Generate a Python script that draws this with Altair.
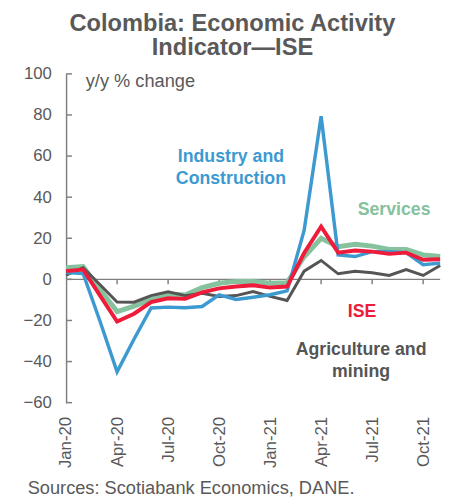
import altair as alt
import pandas as pd

months = ["Jan-20", "Feb-20", "Mar-20", "Apr-20", "May-20", "Jun-20", "Jul-20", "Aug-20",
          "Sep-20", "Oct-20", "Nov-20", "Dec-20", "Jan-21", "Feb-21", "Mar-21", "Apr-21",
          "May-21", "Jun-21", "Jul-21", "Aug-21", "Sep-21", "Oct-21", "Nov-21"]
industry = [3.3, 2.9, -20.5, -45.0, -29.0, -13.9, -13.5, -13.8, -13.2, -7.5, -9.8, -8.7,
            -7.5, -5.6, 23.8, 79.4, 11.9, 11.1, 13.5, 13.5, 13.0, 7.1, 7.9]
services = [5.7, 6.2, -5.0, -15.7, -13.0, -9.8, -7.1, -7.6, -4.0, -1.9, -1.0, -1.0,
            -1.9, -1.6, 11.0, 20.0, 15.9, 17.1, 16.2, 14.6, 14.6, 11.9, 11.1]
ise = [4.0, 4.8, -7.9, -20.5, -16.7, -11.1, -9.2, -9.5, -6.3, -4.4, -3.5, -2.9,
       -4.0, -3.5, 12.8, 25.7, 13.0, 14.0, 13.5, 12.4, 13.0, 9.5, 9.8]
agriculture = [2.0, 5.7, -2.6, -11.0, -11.1, -7.9, -6.0, -7.9, -6.8, -8.3, -7.9, -5.9,
               -8.3, -10.3, 4.0, 9.2, 2.7, 3.9, 3.2, 1.9, 4.8, 1.9, 6.7]

tick_months = ["Jan-20", "Apr-20", "Jul-20", "Oct-20", "Jan-21", "Apr-21", "Jul-21", "Oct-21"]
y_ticks = [-60, -40, -20, 0, 20, 40, 60, 80, 100]

BLUE = "#3D9AD1"
GREEN = "#85C29D"
RED = "#EE1C3A"
GRAY = "#555555"
TXT = "#595959"
AXC = "#808080"
FONT = "Liberation Sans"

W, H = 380, 334

x_enc = lambda field: alt.X(
    field, type="ordinal",
    scale=alt.Scale(type="point", domain=months, padding=0),
    axis=alt.Axis(values=tick_months, labelAngle=-90, domain=False, ticks=False,
                  labelPadding=14, labelFontSize=17, labelColor=TXT, labelFont=FONT,
                  title=None, grid=False),
)
y_enc = lambda field: alt.Y(
    field, type="quantitative",
    scale=alt.Scale(domain=[-60, 100], nice=False, zero=False),
    axis=alt.Axis(values=y_ticks, domain=True, domainColor=AXC, domainWidth=1.5,
                  ticks=False, labelPadding=15, labelFontSize=17, labelColor=TXT,
                  labelFont=FONT, title=None, grid=False),
)

def series_layer(values, color, width):
    df = pd.DataFrame({"m": months, "v": values})
    return alt.Chart(df).mark_line(color=color, strokeWidth=width, strokeJoin="miter").encode(
        x=x_enc("m"), y=y_enc("v"))

# axis helper rules
zero_df = pd.DataFrame({"m0": [months[0]], "m1": [months[-1]], "z": [0]})
zero_line = alt.Chart(zero_df).mark_rule(color=AXC, strokeWidth=1.5).encode(
    x=x_enc("m0"), x2="m1", y=y_enc("z"))

xt_df = pd.DataFrame({"m": tick_months[1:], "z": [0] * (len(tick_months) - 1)})
x_ticks = alt.Chart(xt_df).mark_rule(color=AXC, strokeWidth=1.5, y2Offset=5).encode(
    x=x_enc("m"), y=y_enc("z"), y2="z")

yt_df = pd.DataFrame({"m": [months[0]] * len(y_ticks), "v": y_ticks})
y_tick_marks = alt.Chart(yt_df).mark_rule(color=AXC, strokeWidth=1.5, x2Offset=6).encode(
    x=x_enc("m"), x2="m", y=y_enc("v"))

def annot(month, value, label, color, dx=0):
    df = pd.DataFrame({"m": [month], "v": [value], "t": [label]})
    return alt.Chart(df).mark_text(
        color=color, font=FONT, fontSize=18, fontWeight="bold", lineBreak="\n",
        lineHeight=22, align="center", baseline="middle", dx=dx).encode(
        x=x_enc("m"), y=y_enc("v"), text="t:N")

def free_text(text, x, y, size, bold=False, align="center", baseline="alphabetic"):
    df = pd.DataFrame({"t": [text]})
    return alt.Chart(df).mark_text(
        color=TXT, font=FONT, fontSize=size, fontWeight="bold" if bold else "normal",
        align=align, baseline=baseline, x=x, y=y).encode(text="t:N")

layers = [
    zero_line, x_ticks, y_tick_marks,
    series_layer(services, GREEN, 5),
    series_layer(agriculture, GRAY, 3),
    series_layer(industry, BLUE, 3.5),
    series_layer(ise, RED, 4),
    annot("Oct-20", 59.3, "Industry and\nConstruction", BLUE, dx=12),
    annot("Aug-21", 33.5, "Services", GREEN, dx=5),
    annot("Jun-21", -15.8, "ISE", RED, dx=7),
    annot("Jun-21", -34.6, "Agriculture and\nmining", GRAY, dx=6),
    free_text("Colombia: Economic Activity", 169, -44, 24, bold=True),
    free_text("Indicator\u2014ISE", 169, -19, 24, bold=True),
    free_text("y/y % change", 20, 7, 18.5, align="left", baseline="middle"),
    free_text("Sources: Scotiabank Economics, DANE.", -39, 421, 18.5, align="left", baseline="middle"),
]

chart = alt.layer(*layers).properties(
    width=W, height=H,
    autosize=alt.AutoSizeParams(type="none"),
    padding={"left": 59, "top": 63, "right": 10, "bottom": 97},
).configure_view(stroke=None)

chart.save("out.html", embed_options={"renderer": "svg", "actions": False})
